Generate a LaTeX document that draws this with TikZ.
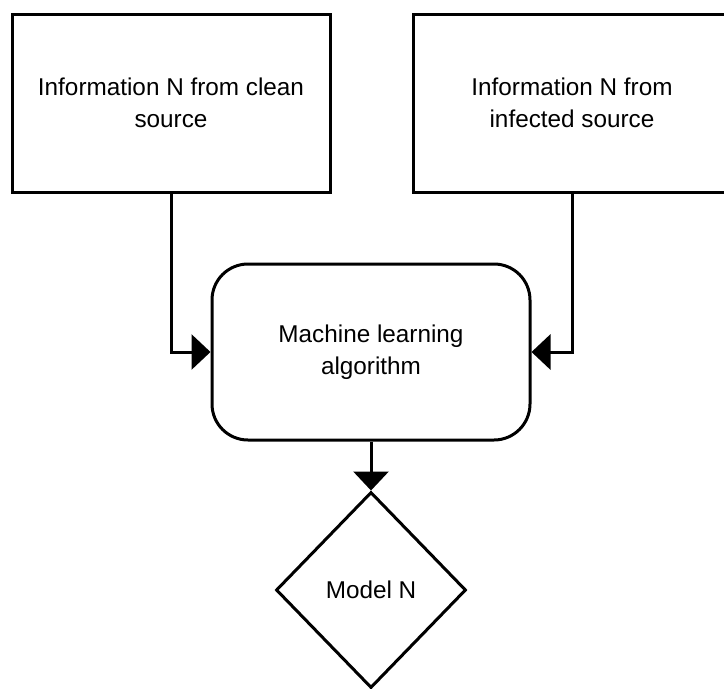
\documentclass[tikz,border=0pt]{standalone}
\usepackage{fontspec}
\setmainfont{Liberation Sans}
\usetikzlibrary{shapes.geometric,arrows.meta}
\begin{document}
\begin{tikzpicture}[x=1pt,y=-1pt,
  every node/.style={font=\fontsize{24.3}{31.5}\selectfont, align=center, text=black},
  srcbox/.style={draw, line width=3pt, rectangle, minimum width=318pt, minimum height=178pt, inner sep=0pt},
  algbox/.style={draw, line width=3pt, rectangle, rounded corners=36pt, minimum width=318pt, minimum height=176pt, inner sep=0pt},
  modeldia/.style={draw, line width=3pt, diamond, minimum width=190pt, minimum height=196pt, inner sep=0pt},
  conn/.style={line width=3pt, -{Triangle[length=19pt,width=35pt]}}]
\useasboundingbox (0,0) rectangle (724,689);
\clip (0,0) rectangle (724,689);
\node[srcbox] (lb) at (171,103) {Information N from clean\\source};
\node[srcbox] (rb) at (572,103) {Information N from\\infected source};
\node[algbox] (ml) at (371,352) {Machine learning\\algorithm};
\node[modeldia] (mn) at (371,590) {Model N};
\draw[conn] (lb.south) |- (ml.west);
\draw[conn] (rb.south) |- (ml.east);
\draw[conn] (ml.south) -- (mn.north);
\end{tikzpicture}
\end{document}
